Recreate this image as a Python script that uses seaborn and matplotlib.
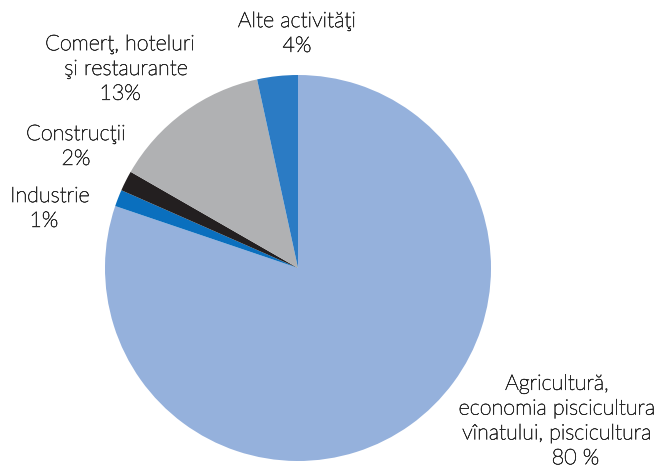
import matplotlib
matplotlib.use("Agg")
import matplotlib.pyplot as plt
import matplotlib.patheffects as pe
import seaborn as sns

sns.set_theme(style="white")
plt.rcParams['font.family'] = ['Lato', 'DejaVu Sans']

categories = ["Agricultură,\neconomia piscicultura\nvînatului, piscicultura",
              "Industrie", "Construcţii", "Comerţ, hoteluri\n  şi restaurante", "Alte activităţi"]
values = [80.2, 1.4, 1.7, 13.3, 3.4]
pct_labels = ["      80 %", "1%  ", "2%", "13%", "4%"]
colors = ["#95B1DC", "#0A6FBE", "#231F20", "#B0B1B3", "#2B7BC4"]

W, H = 663, 473
fig = plt.figure(figsize=(W / 100, H / 100), dpi=100)
ax = fig.add_axes([0, 0, 1, 1])

cx, cy, r = 298, H - 268, 193
ax.pie(values, colors=colors, startangle=90, counterclock=False,
       center=(cx, cy), radius=r, frame=True,
       wedgeprops=dict(linewidth=0))
ax.set_xlim(0, W)
ax.set_ylim(0, H)
ax.set_aspect('equal')
ax.axis('off')

# label block centres (pixel coords)
label_pos = [(557, 421), (50, 208.5), (76, 146.5), (120, 69), (297, 33.5)]
for cat, pct, (x, y) in zip(categories, pct_labels, label_pos):
    txt = cat + "\n" + pct
    ax.text(x, H - y, txt, ha='center', va='center', multialignment='center',
            fontsize=15.5, color='#2b2b2b', linespacing=1.3,
            fontweight='light',
            path_effects=[pe.withStroke(linewidth=0.45, foreground='#2b2b2b')])

fig.savefig("out.png", dpi=100)
